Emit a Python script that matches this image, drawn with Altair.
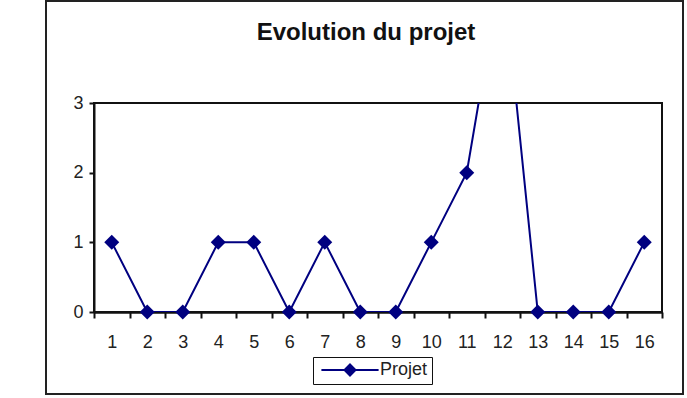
import altair as alt
import pandas as pd

categories = [str(i) for i in range(1, 17)]
values = [1, 0, 0, 1, 1, 0, 1, 0, 0, 1, 2, 5, 0, 0, 0, 1]
series = ["Projet"] * 16
y_ticks = [0, 1, 2, 3]

df = pd.DataFrame({"cat": categories, "value": values, "series": series})

NAVY = "#000080"
FONT = "Liberation Sans"
W, H = 568, 209

xenc = alt.X("cat:N", sort=categories,
             scale=alt.Scale(paddingInner=0, paddingOuter=0),
             axis=alt.Axis(title=None, labelAngle=0, tickBand="extent",
                           labelFontSize=18, labelFont=FONT, labelColor="#222",
                           tickSize=6, tickWidth=2, tickColor="#111",
                           domainColor="#111", domainWidth=2.5,
                           labelPadding=15, grid=False))
yenc = alt.Y("value:Q", scale=alt.Scale(domain=[0, 3], nice=False),
             axis=alt.Axis(title=None, values=y_ticks, format="d",
                           labelFontSize=18, labelFont=FONT, labelColor="#222",
                           tickSize=5, tickWidth=2, tickColor="#111",
                           domainColor="#111", domainWidth=2,
                           labelPadding=6, grid=False))

legend = alt.Legend(title=None, orient="none", legendX=219, legendY=254,
                    symbolType="M-5.2,0L5.2,0M0,-1L1,0L0,1L-1,0Z",
                    symbolSize=121, symbolStrokeWidth=2, symbolOffset=24,
                    symbolFillColor=NAVY, symbolStrokeColor=NAVY,
                    labelFontSize=18, labelFont=FONT, labelColor="#222",
                    labelOffset=21, padding=4,
                    strokeColor="#111", fillColor="white")

line = alt.Chart(df).mark_line(clip=True, strokeWidth=2).encode(
    x=xenc, y=yenc,
    color=alt.Color("series:N", scale=alt.Scale(domain=["Projet"], range=[NAVY]),
                    legend=legend),
)

points = alt.Chart(df).transform_filter("datum.value <= 3").mark_point(
    shape="diamond", filled=True, size=225, opacity=1, color=NAVY
).encode(x=xenc, y=yenc)

one = pd.DataFrame({"a": [0]})
frame = alt.Chart(one).mark_rect(
    fill=None, stroke="#222", strokeWidth=2, clip=False
).encode(x=alt.value(-48), x2=alt.value(589), y=alt.value(-102), y2=alt.value(291))

plot_border = alt.Chart(one).mark_rect(
    fill=None, stroke="#111", strokeWidth=2, clip=False
).encode(x=alt.value(0), x2=alt.value(W), y=alt.value(0), y2=alt.value(H))

chart = alt.layer(frame, plot_border, line, points).properties(
    width=W, height=H,
    autosize=alt.AutoSizeParams(type="none"),
    padding={"left": 94, "top": 103, "right": 25, "bottom": 86},
    title=alt.TitleParams("Evolution du projet", fontSize=24, fontWeight="bold",
                          font=FONT, color="#111", anchor="middle", dx=-12, offset=-45),
).configure_view(stroke=None).configure(background="white")

chart.save("out.html", embed_options={"renderer": "svg", "actions": False})
